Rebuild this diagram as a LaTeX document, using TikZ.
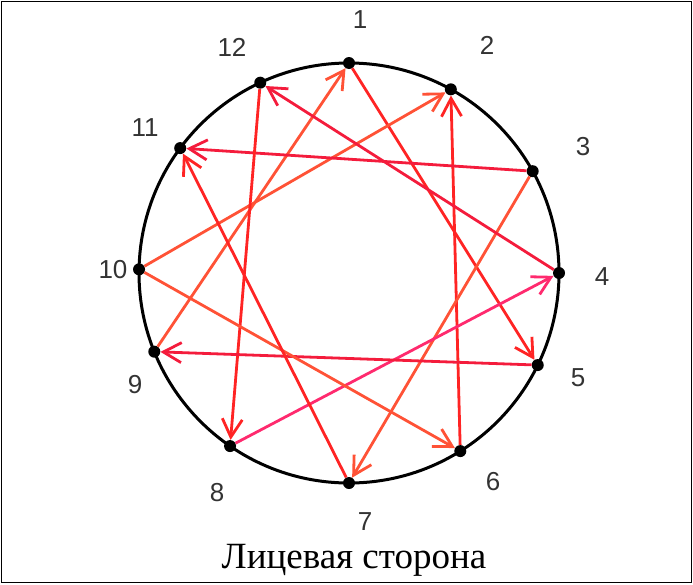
\documentclass[tikz,border=0pt]{standalone}
\usepackage{fontspec}
\setmainfont{Liberation Serif}
\newfontfamily\numfont{Liberation Sans}
\usetikzlibrary{arrows.meta,calc}
\definecolor{redA}{HTML}{FF2424}
\definecolor{redB}{HTML}{FF5236}
\definecolor{redC}{HTML}{F41C3C}
\definecolor{pinkA}{HTML}{FF2A6E}

\begin{document}
\begin{tikzpicture}[
  x=1pt,y=1pt,
  dot/.style={circle,fill=black,inner sep=0pt,minimum size=12pt},
  num/.style={font=\numfont\fontsize{26}{28}\selectfont,text=black!80},
  a/.style={-{Straight Barb[length=18pt,width=20pt,line width=2.8pt]},line width=2.8pt}
]
\useasboundingbox (0,0) rectangle (693,-584);
\draw[line width=1.5pt] (1.5,-1.5) rectangle (691.5,-582.5);
\coordinate (c) at (349,-273);
\draw[line width=3pt] (c) circle (210);
% points on the ring
\foreach \k/\ang in {1/90,2/61,3/29,4/0,5/-26,6/-58,7/-90,8/-124.5,9/-158,10/179,11/143.5,12/115}
  \node[dot] (p\k) at ($(c)+(\ang:210)$) {};
% numbers
\foreach \k/\lx/\ly in {1/360/20,2/487/45,3/583/147,4/602/277,5/578/378,6/493/482,
  7/365/522,8/217/493,9/135/385,10/113/270,11/145/128,12/232/47}
  \node[num] (l\k) at (\lx,-\ly) {\k};
% threads
\foreach \s/\t/\col in {9/1/redB,1/5/redA,10/2/redB,6/2/redA,3/11/redC,3/7/redB,
  4/12/redC,12/8/redA,8/4/pinkA,5/9/redC,10/6/redB,7/11/redA}
  \draw[a,\col] (p\s) -- (p\t);
\node[font=\fontsize{37}{39}\selectfont] (cap) at (354,-560) {Лицевая сторона};
\end{tikzpicture}
\end{document}
